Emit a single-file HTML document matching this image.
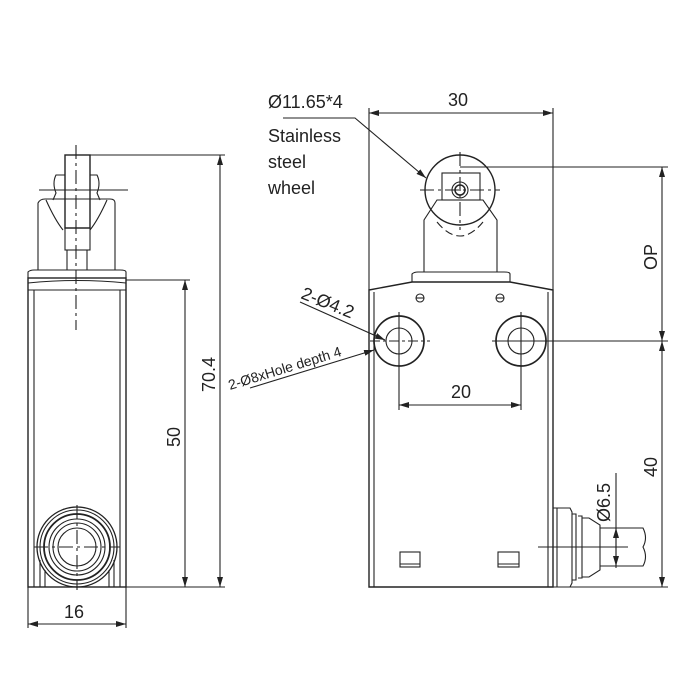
<!DOCTYPE html>
<html><head><style>body{margin:0;background:#fff}svg{display:block}text{font-family:"Liberation Sans","DejaVu Sans",sans-serif;fill:#222}</style></head>
<body>
<svg width="700" height="700" viewBox="0 0 700 700" xmlns="http://www.w3.org/2000/svg">
<defs>
<marker id="a" markerWidth="10" markerHeight="8" refX="10" refY="4" orient="auto-start-reverse" markerUnits="userSpaceOnUse"><path d="M0,1 L10,4 L0,7 Z" fill="#222"/></marker>
</defs>
<g stroke="#222" fill="none" stroke-width="1.1">
<!-- LEFT VIEW -->
<rect x="28" y="278" width="98" height="309" stroke-width="1.4"/>
<line x1="34" y1="290" x2="34" y2="587"/><line x1="120" y1="290" x2="120" y2="587"/>
<path d="M28,278 L28,272 Q30,270 34,270 L120,270 Q126,270 126,272 L126,278"/>
<path d="M28,283 Q77,278 126,283"/><line x1="28" y1="290" x2="126" y2="290"/>
<path d="M38,270 L38,203 Q40,199 45,199 L110,199 Q115,199 115,203 L115,270"/>
<path d="M46,200 Q55,220 63,230 M107,200 Q98,220 90,230"/>
<path d="M53,200 L56,193 Q52,183 56,175 L65,175 M100,200 L97,193 Q101,183 97,175 L90,175"/>
<rect x="65" y="155" width="25" height="73" stroke-width="1.4"/>
<rect x="65" y="228" width="25" height="22"/>
<line x1="67" y1="250" x2="67" y2="270"/><line x1="87" y1="250" x2="87" y2="270"/>
<line x1="39" y1="190" x2="128" y2="190"/>
<line x1="76" y1="145" x2="76" y2="330" stroke-dasharray="14,4,3,4"/>
<circle cx="77" cy="547" r="40" stroke-width="1.3"/>
<circle cx="77" cy="547" r="37"/><circle cx="77" cy="547" r="33" stroke-width="1.8"/>
<circle cx="77" cy="547" r="28"/><circle cx="77" cy="547" r="24"/><circle cx="77" cy="547" r="19"/>
<path d="M40,587 L40,560 M45,587 L45,570 M114,587 L114,560 M109,587 L109,570"/>
<line x1="34" y1="547" x2="120" y2="547" stroke-dasharray="14,4,3,4"/><line x1="77" y1="505" x2="77" y2="590" stroke-dasharray="14,4,3,4"/>
<!-- left dims -->
<line x1="90" y1="155" x2="225" y2="155"/><line x1="126" y1="280" x2="190" y2="280"/>
<line x1="126" y1="587" x2="225" y2="587"/>
<line x1="220" y1="155" x2="220" y2="587" marker-start="url(#a)" marker-end="url(#a)"/>
<line x1="185" y1="280" x2="185" y2="587" marker-start="url(#a)" marker-end="url(#a)"/>
<line x1="28" y1="587" x2="28" y2="628"/><line x1="126" y1="587" x2="126" y2="628"/>
<line x1="28" y1="624" x2="126" y2="624" marker-start="url(#a)" marker-end="url(#a)"/>
<!-- RIGHT VIEW -->
<path d="M369,587 L369,290 L412,282 L510,282 L553,290 L553,587 Z" stroke-width="1.4"/>
<line x1="374" y1="292" x2="374" y2="587"/><line x1="548" y1="292" x2="548" y2="587"/>
<path d="M412,282 L412,274 Q414,272 418,272 L504,272 Q510,272 510,274 L510,282"/>
<path d="M424,272 L424,220 L437,200 L483,200 L497,220 L497,272"/>
<circle cx="460" cy="190" r="35" stroke-width="1.4"/>
<path d="M437,222 Q460,250 483,222" stroke-dasharray="8,4"/>
<rect x="442" y="173" width="38" height="27"/>
<circle cx="460" cy="190" r="8"/><circle cx="460" cy="190" r="5" stroke-width="1.5"/>
<line x1="420" y1="190" x2="500" y2="190" stroke-dasharray="14,4,3,4"/><line x1="460" y1="152" x2="460" y2="230" stroke-dasharray="14,4,3,4"/>
<circle cx="420" cy="298" r="4"/><line x1="416" y1="298" x2="424" y2="298"/>
<circle cx="500" cy="298" r="4"/><line x1="496" y1="298" x2="504" y2="298"/>
<circle cx="399" cy="341" r="25" stroke-width="1.7"/><circle cx="399" cy="341" r="13"/>
<circle cx="521" cy="341" r="25" stroke-width="1.7"/><circle cx="521" cy="341" r="13"/>
<line x1="370" y1="341" x2="430" y2="341" stroke-dasharray="10,3,3,3"/><line x1="399" y1="312" x2="399" y2="410"/>
<line x1="492" y1="341" x2="668" y2="341"/><line x1="521" y1="312" x2="521" y2="410"/>
<line x1="399" y1="405" x2="521" y2="405" marker-start="url(#a)" marker-end="url(#a)"/>
<rect x="400" y="552" width="20" height="15"/><line x1="400" y1="564" x2="420" y2="564"/>
<rect x="498" y="552" width="21" height="15"/><line x1="498" y1="564" x2="519" y2="564"/>
<!-- gland -->
<path d="M553,508 L570,508 L572,512 L572,583 L570,587 L553,587"/>
<path d="M572,514 L576,514 L576,580 L572,580 M578,516 L582,516 L582,578 L578,578 M582,518 L589,518 L600,525 L600,570 L589,577 L582,577"/>
<line x1="557" y1="508" x2="557" y2="587"/>
<path d="M600,528 L643,528 Q648,538 643,547 Q648,557 643,566 L600,566"/>
<line x1="538" y1="547" x2="628" y2="547"/>
<line x1="616" y1="473" x2="616" y2="568"/>
<line x1="616" y1="547" x2="616" y2="528" marker-end="url(#a)"/><line x1="616" y1="547" x2="616" y2="566" marker-end="url(#a)"/>
<!-- right dims -->
<line x1="369" y1="108" x2="369" y2="290"/><line x1="553" y1="108" x2="553" y2="290"/>
<line x1="369" y1="113" x2="553" y2="113" marker-start="url(#a)" marker-end="url(#a)"/>
<line x1="460" y1="167" x2="668" y2="167"/>
<line x1="662" y1="167" x2="662" y2="341" marker-start="url(#a)" marker-end="url(#a)"/>
<line x1="553" y1="587" x2="668" y2="587"/>
<line x1="662" y1="341" x2="662" y2="587" marker-start="url(#a)" marker-end="url(#a)"/>
<!-- leaders -->
<polyline points="283,118 355,118 426,178" marker-end="url(#a)"/>
<polyline points="300,302 385,340" marker-end="url(#a)" />
<line x1="250" y1="388" x2="374" y2="350" marker-end="url(#a)"/>
</g>
<g font-size="18">
<text x="268" y="108">Ø11.65*4</text>
<text x="268" y="142">Stainless</text>
<text x="268" y="168">steel</text>
<text x="268" y="194">wheel</text>
<text x="448" y="106">30</text>
<text x="451" y="398">20</text>
<text x="64" y="618">16</text>
<text transform="translate(215,392) rotate(-90)">70.4</text>
<text transform="translate(180,447) rotate(-90)">50</text>
<text transform="translate(657,270) rotate(-90)">OP</text>
<text transform="translate(657,477) rotate(-90)">40</text>
<text transform="translate(610,522) rotate(-90)">Ø6.5</text>
<text transform="translate(300,298) rotate(22)">2-Ø4.2</text>
</g>
<text font-size="14" transform="translate(230,390) rotate(-17)">2-Ø8xHole depth 4</text>
</svg>
</body></html>
